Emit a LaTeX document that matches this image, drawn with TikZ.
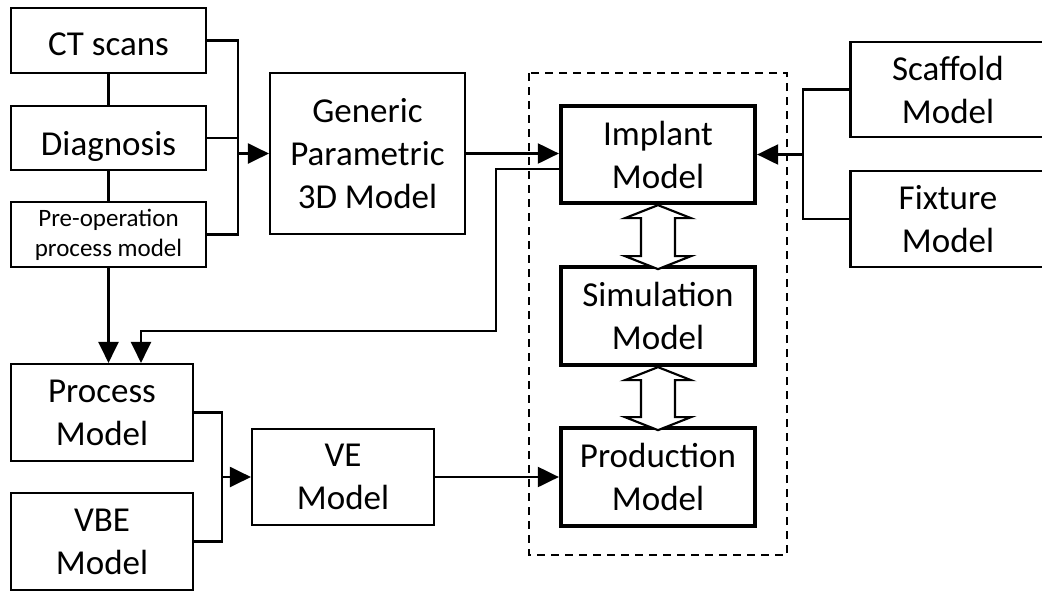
\documentclass[tikz,border=0pt]{standalone}
\usepackage{fontspec}
\setmainfont{Carlito}
\usetikzlibrary{arrows.meta}
\tikzset{
  box/.style={draw, line width=1.6pt, inner sep=0pt, align=center, fill=white,
    font=\fontsize{26.25pt}{32.25pt}\selectfont},
  thickbox/.style={box, line width=3.2pt},
  smallbox/.style={box, font=\fontsize{18.75pt}{22.5pt}\selectfont},
  sz/.style 2 args={minimum width=#1*0.75pt, minimum height=#2*0.75pt},
  line/.style={line width=1.6pt},
  arr/.style={line width=1.6pt, -{Triangle[length=15.75pt,width=15pt]}},
  hollow/.style={draw, line width=1.6pt, fill=white, line join=miter},
  dashbox/.style={draw, line width=1.5pt, dash pattern=on 6pt off 4.5pt}
}
\begin{document}
\begin{tikzpicture}[x=0.75pt, y=-0.75pt]
\useasboundingbox (0,0) rectangle (1042,590);
% dashed group frame
\draw[dashbox] (529,73) rectangle (787,555);

% left column
\node[box, sz={195}{65}, text height=21.75pt, text depth=0pt] (ct) at (108.5,40.5) {CT scans};
\node[box, sz={195}{64}, text height=25.5pt, text depth=0pt] (diag) at (108.5,138) {Diagnosis};
\node[smallbox, sz={195}{65}] (preop) at (108.5,234.5) {Pre-operation\\process model};
\node[box, sz={195}{161}] (gen) at (367.5,153.5) {Generic\\Parametric\\3D Model};

% center column
\node[thickbox, sz={194}{97}] (impl) at (658,154.5) {Implant\\Model};
\node[thickbox, sz={194}{98}] (sim) at (658,316) {Simulation\\Model};
\node[thickbox, sz={194}{98}] (prod) at (658,477) {Production\\Model};

% right column
\node[box, sz={195}{95}] (scaf) at (948,89.5) {Scaffold\\Model};
\node[box, sz={195}{96}] (fix) at (948,219) {Fixture\\Model};

% bottom left
\node[box, sz={182}{97}] (proc) at (102,412.5) {Process\\Model};
\node[box, sz={182}{97}] (vbe) at (102,541.5) {VBE\\Model};
\node[box, sz={182}{96}] (ve) at (343,477) {VE\\Model};

% bus coordinates
\coordinate (b1) at (238,153.5);
\coordinate (b2) at (803,154.5);
\coordinate (b3) at (222,477);
\coordinate (r1) at (496,169);
\coordinate (r2) at (496,331);
\coordinate (r3) at (141,331);

% left stack links
\draw[line] (ct.south) -- (diag.north);
\draw[line] (diag.south) -- (preop.north);
\draw[line] (ct.east) -| (b1);
\draw[line] (diag.east) -| (b1);
\draw[line] (preop.east) -| (b1);
\draw[arr] (b1) -- (gen.west);
\draw[arr] (gen.east) -- (impl.west |- gen.east);

% right links
\draw[line] (scaf.west) -| (b2);
\draw[line] (fix.west) -| (b2);
\draw[arr] (b2) -- (impl.east);

% return to process model
\draw[arr] (impl.west |- r1) -- (r1) -- (r2) -- (r3) -- (r3 |- proc.north);
\draw[arr] (preop.south) -- (preop.south |- proc.north);

% bottom links
\draw[line] (proc.east) -| (b3);
\draw[line] (vbe.east) -| (b3);
\draw[arr] (b3) -- (ve.west);
\draw[arr] (ve.east) -- (prod.west);

% hollow double arrows
\draw[hollow] (impl.south) -- ++(33,13) -- ++(-16,0) -- ++(0,38) -- ++(16,0)
  -- ++(-33,13) -- ++(-33,-13) -- ++(16,0) -- ++(0,-38) -- ++(-16,0) -- cycle;
\draw[hollow] (sim.south) -- ++(33,13) -- ++(-16,0) -- ++(0,37) -- ++(16,0)
  -- ++(-33,13) -- ++(-33,-13) -- ++(16,0) -- ++(0,-37) -- ++(-16,0) -- cycle;
\end{tikzpicture}
\end{document}
